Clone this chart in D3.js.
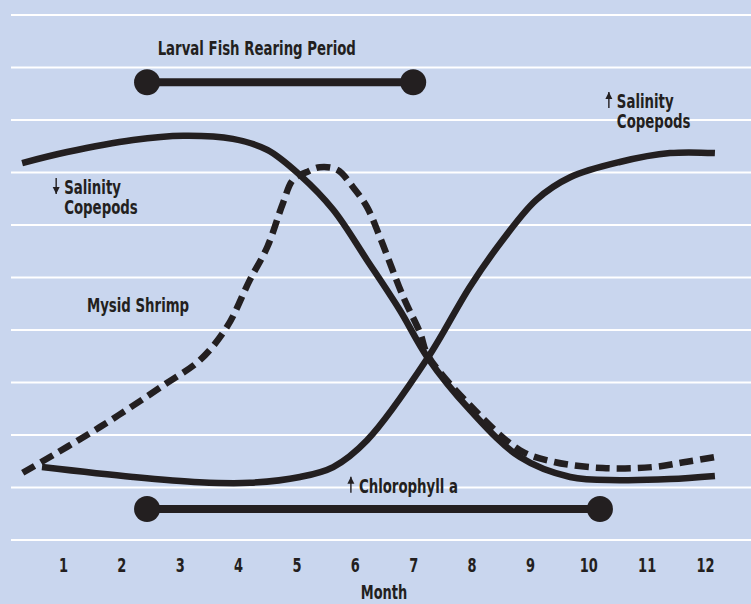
<!DOCTYPE html>
<html>
<head>
<meta charset="utf-8">
<script src="https://cdn.jsdelivr.net/npm/d3@7"></script>
<style>
  body { margin: 0; background: #c9d6ee; }
  text { font-family: "DejaVu Sans Condensed", "DejaVu Sans", sans-serif; font-stretch: condensed; font-weight: bold; fill: #231f20; }
</style>
</head>
<body>
<script>
// chart data (x = month, y = relative level, gridline units)
var months = [1, 2, 3, 4, 5, 6, 7, 8, 9, 10, 11, 12]
var levels = [0, 1, 2, 3, 4, 5, 6, 7, 8, 9, 10]

// salinity copepods that fall off as salinity drops
var lowSalX = [0.3, 1.07, 2.2, 3.06, 3.91, 4.5, 5.06, 5.63, 6.21, 6.77, 7.25, 7.97, 8.83, 9.69, 10.54, 11.4, 12.17]
var lowSalY = [7.18, 7.39, 7.62, 7.70, 7.64, 7.43, 6.95, 6.29, 5.33, 4.38, 3.47, 2.48, 1.58, 1.20, 1.14, 1.16, 1.22]

// copepods that rise with salinity
var highSalX = [0.64, 2.2, 3.34, 4.2, 5.06, 5.63, 6.21, 7.25, 7.97, 8.53, 9.11, 9.69, 10.54, 11.4, 12.17]
var highSalY = [1.39, 1.20, 1.10, 1.09, 1.20, 1.39, 1.90, 3.47, 4.82, 5.71, 6.48, 6.91, 7.20, 7.37, 7.37]

// mysid shrimp (dashed)
var mysidX = [0.31, 1.63, 2.78, 3.35, 3.81, 4.2, 4.5, 4.77, 4.94, 5.18, 5.40, 5.70, 5.97, 6.21, 6.43, 6.83, 7.12, 7.25, 7.97, 8.83, 9.40, 10.25, 11.11, 11.69, 12.17]
var mysidY = [1.28, 2.15, 2.99, 3.43, 4.06, 4.95, 5.58, 6.42, 6.86, 7.01, 7.10, 7.05, 6.72, 6.34, 5.77, 4.63, 3.94, 3.52, 2.57, 1.71, 1.49, 1.37, 1.39, 1.49, 1.58]

// time periods drawn as bars with round ends
var periodNames = ["Larval Fish Rearing Period", "Chlorophyll a"]
var periodStart = [2.44, 2.44]
var periodEnd = [7.0, 10.2]
var periodLevel = [8.72, 0.59]

// annotation texts (month, level of first baseline, arrow direction)
var labelLines = [["Larval Fish Rearing Period"], ["Salinity", "Copepods"], ["Salinity", "Copepods"], ["Mysid Shrimp"], ["Chlorophyll a"]]
var labelX = [4.32, 1.02, 10.49, 1.41, 6.07]
var labelY = [9.24, 6.59, 8.23, 4.34, 0.90]
var labelArrow = ["", "down", "up", "", "up"]
var labelAnchor = ["middle", "start", "start", "start", "start"]

var width = 751
var height = 604
var ink = "#231f20"
var squeeze = "scale(0.76,1)"  // narrow the type like the condensed face of the original

var svg = d3.select("body")
  .append("svg")
    .attr("width", width)
    .attr("height", height)

svg.append("rect")
  .attr("width", width)
  .attr("height", height)
  .attr("fill", "#c9d6ee")

var x = d3.scaleLinear().domain([1, 12]).range([63, 705])
var y = d3.scaleLinear().domain([0, 10]).range([540, 15])

// white horizontal gridlines
svg.append("g")
  .selectAll("line")
  .data(levels)
  .enter()
  .append("line")
    .attr("x1", 11)
    .attr("x2", width)
    .attr("y1", function(d){ return y(d) })
    .attr("y2", function(d){ return y(d) })
    .attr("stroke", "#ffffff")
    .attr("stroke-width", 2.2)

// month axis: labels only
var xAxis = svg.append("g")
  .attr("transform", "translate(0,572)")
  .call(d3.axisBottom(x).tickValues(months).tickSize(0).tickPadding(0).tickFormat(d3.format("d")))
xAxis.select(".domain").remove()
xAxis.selectAll("text")
  .attr("dy", 0)
  .attr("transform", squeeze)
  .style("font-size", "19px")
  .style("font-family", null)
  .attr("fill", ink)

svg.append("g")
  .attr("transform", "translate(" + x(6.5) + ",599)")
  .append("text")
    .attr("transform", squeeze)
    .attr("text-anchor", "middle")
    .style("font-size", "19px")
    .text("Month")

// curves
var line = d3.line()
  .x(function(d){ return x(d[0]) })
  .y(function(d){ return y(d[1]) })
  .curve(d3.curveCatmullRom.alpha(0.5))

var series = [
  { pts: d3.zip(lowSalX, lowSalY), dash: null },
  { pts: d3.zip(highSalX, highSalY), dash: null },
  { pts: d3.zip(mysidX, mysidY), dash: "14,7" }
]

svg.append("g")
  .selectAll("path")
  .data(series)
  .enter()
  .append("path")
    .attr("d", function(d){ return line(d.pts) })
    .attr("fill", "none")
    .attr("stroke", ink)
    .attr("stroke-width", 6.5)
    .attr("stroke-dasharray", function(d){ return d.dash })

// period bars
var periods = svg.append("g")
  .selectAll("g")
  .data(periodNames)
  .enter()
  .append("g")

periods.append("line")
  .attr("x1", function(d, i){ return x(periodStart[i]) })
  .attr("x2", function(d, i){ return x(periodEnd[i]) })
  .attr("y1", function(d, i){ return y(periodLevel[i]) })
  .attr("y2", function(d, i){ return y(periodLevel[i]) })
  .attr("stroke", ink)
  .attr("stroke-width", 8)

periods.append("circle")
  .attr("cx", function(d, i){ return x(periodStart[i]) })
  .attr("cy", function(d, i){ return y(periodLevel[i]) })
  .attr("r", 13)
  .attr("fill", ink)

periods.append("circle")
  .attr("cx", function(d, i){ return x(periodEnd[i]) })
  .attr("cy", function(d, i){ return y(periodLevel[i]) })
  .attr("r", 13)
  .attr("fill", ink)

// annotations
var labels = svg.append("g")
  .selectAll("g")
  .data(labelLines)
  .enter()
  .append("g")
    .attr("transform", function(d, i){ return "translate(" + x(labelX[i]) + "," + y(labelY[i]) + ")" })

labels.append("text")
  .attr("text-anchor", function(d, i){ return labelAnchor[i] })
  .attr("transform", squeeze)
  .style("font-size", "19.5px")
  .selectAll("tspan")
  .data(function(d){ return d })
  .enter()
  .append("tspan")
    .attr("x", 0)
    .attr("dy", function(d, i){ return i === 0 ? 0 : 20 })
    .text(function(d){ return d })

// small arrows in front of the labels
labels.each(function(d, i) {
    var dir = labelArrow[i]
    if (dir === "") return
    var g = d3.select(this)
    var ax = -8, top = -16, bot = 0
    var tip = dir === "up" ? top : bot
    var back = dir === "up" ? 7 : -7
    g.append("line")
      .attr("x1", ax).attr("x2", ax)
      .attr("y1", top).attr("y2", bot)
      .attr("stroke", ink)
      .attr("stroke-width", 1.4)
    g.append("path")
      .attr("d", "M" + ax + "," + tip + "L" + (ax - 3.5) + "," + (tip + back) + "L" + (ax + 3.5) + "," + (tip + back) + "Z")
      .attr("fill", ink)
  })
</script>
</body>
</html>
